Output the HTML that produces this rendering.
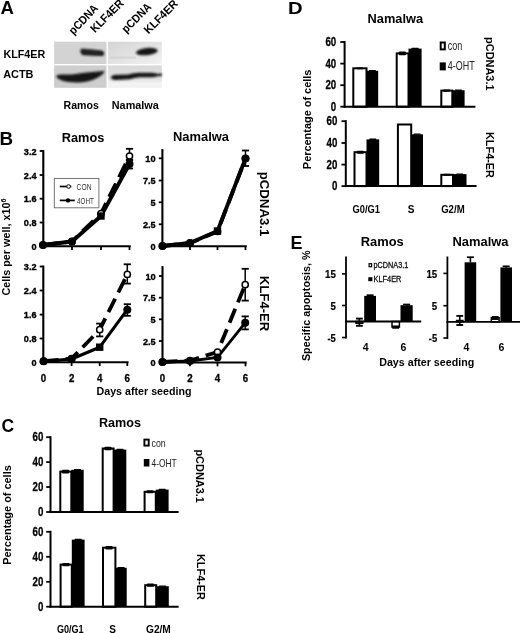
<!DOCTYPE html>
<html lang="en">
<head>
<meta charset="utf-8">
<title>Figure</title>
<style>
html,body{margin:0;padding:0;background:#fff;}
body{width:520px;height:633px;overflow:hidden;}
svg{display:block;will-change:transform;}
svg text{font-family:"Liberation Sans",Arial,Helvetica,sans-serif;}
</style>
</head>
<body>
<svg width="520" height="633" viewBox="0 0 520 633">
<defs>
<filter id="b1" x="-5%" y="-5%" width="110%" height="110%"><feGaussianBlur stdDeviation="0.4"/></filter>
<filter id="b2" x="-10%" y="-10%" width="120%" height="120%"><feGaussianBlur stdDeviation="0.85"/></filter>
<linearGradient id="gTR" x1="0" y1="0" x2="1" y2="1"><stop offset="0" stop-color="#d4d4d4"/><stop offset="0.55" stop-color="#e4e4e4"/><stop offset="1" stop-color="#f2f2f2"/></linearGradient>
<linearGradient id="gBR" x1="0" y1="0" x2="0" y2="1"><stop offset="0" stop-color="#d9d9d9"/><stop offset="0.6" stop-color="#e2e2e2"/><stop offset="0.8" stop-color="#f3f3f3"/><stop offset="1" stop-color="#f1f1f1"/></linearGradient>
</defs>
<rect x="0" y="0" width="520" height="633" fill="#fff"/>
<text x="0.6" y="13.7" font-size="17.5" text-anchor="start" font-weight="bold" fill="#000" textLength="13.4" lengthAdjust="spacingAndGlyphs" >A</text>
<text x="-0.4" y="144.8" font-size="17.7" text-anchor="start" font-weight="bold" fill="#000" textLength="13.6" lengthAdjust="spacingAndGlyphs" >B</text>
<text x="1.6" y="431.6" font-size="17.5" text-anchor="start" font-weight="bold" fill="#000" >C</text>
<text x="287.9" y="13.9" font-size="17.3" text-anchor="start" font-weight="bold" fill="#000" textLength="14.6" lengthAdjust="spacingAndGlyphs" >D</text>
<text x="290.4" y="249.1" font-size="18" text-anchor="start" font-weight="bold" fill="#000" >E</text>
<text x="73.5" y="35.2" font-size="11.5" text-anchor="start" font-weight="bold" fill="#000" textLength="36.5" lengthAdjust="spacingAndGlyphs" transform="rotate(-46 73.5 35.2)" >pCDNA</text>
<text x="95" y="33.3" font-size="11.5" text-anchor="start" font-weight="bold" fill="#000" textLength="41.5" lengthAdjust="spacingAndGlyphs" transform="rotate(-45 95 33.3)" >KLF4ER</text>
<text x="126.3" y="33.5" font-size="11.5" text-anchor="start" font-weight="bold" fill="#000" textLength="36.5" lengthAdjust="spacingAndGlyphs" transform="rotate(-45 126.3 33.5)" >pCDNA</text>
<text x="148.6" y="34.5" font-size="11.5" text-anchor="start" font-weight="bold" fill="#000" textLength="42.5" lengthAdjust="spacingAndGlyphs" transform="rotate(-45 148.6 34.5)" >KLF4ER</text>
<text x="3.5" y="57.5" font-size="11" text-anchor="start" font-weight="bold" fill="#000" textLength="41.7" lengthAdjust="spacingAndGlyphs" >KLF4ER</text>
<text x="3.2" y="78.3" font-size="11" text-anchor="start" font-weight="bold" fill="#000" textLength="30.3" lengthAdjust="spacingAndGlyphs" >ACTB</text>
<text x="63.6" y="108.6" font-size="11" text-anchor="start" font-weight="bold" fill="#000" textLength="35.3" lengthAdjust="spacingAndGlyphs" >Ramos</text>
<text x="111.8" y="108.6" font-size="11" text-anchor="start" font-weight="bold" fill="#000" textLength="47" lengthAdjust="spacingAndGlyphs" >Namalwa</text>
<g filter="url(#b1)">
<rect x="54.1" y="41.7" width="52.4" height="22.3" fill="#d3d3d3"/>
<rect x="108" y="41.7" width="53.8" height="22.3" fill="url(#gTR)"/>
<rect x="54.1" y="65.4" width="52.4" height="22.4" fill="#cecece"/>
<rect x="108" y="65.4" width="53.8" height="22.4" fill="url(#gBR)"/>
<rect x="110" y="56.6" width="26" height="2.2" fill="#c6c6c6" opacity="0.45"/>
</g>
<g filter="url(#b2)" fill="#161616">
<path d="M80.4 50 Q80.6 48.4 84 48.8 L100 50.2 Q104.2 50.8 104.2 53.2 Q104.2 56.4 100 56 L84 55.3 Q80 55 80.4 50Z"/>
<path d="M83 51.6 L101 53" stroke="#4a4a4a" stroke-width="0.7" fill="none"/>
<ellipse cx="146.8" cy="51.6" rx="11" ry="3.6" transform="rotate(-6 146.8 51.6)"/>
<path d="M56.3 77 Q56.5 74.3 62 74.6 L72 74.4 Q82 72.6 92 71.9 L104.6 71 Q104 74 98 77.5 Q88 82.9 76 82.5 Q60 82 56.3 77Z"/>
<path d="M111 77.5 Q111.5 75 116 74.8 L128 74.5 Q133 73 138 72.8 L152 72.8 Q156 73 158 74 L161.8 73.3 L161.8 76.2 L158 76 Q155 77.3 150 77.2 L140 77.3 Q134 78 130 79.3 L116 79.9 Q111 80 111 77.5Z"/>
</g>
<text x="83" y="141.6" font-size="13.5" text-anchor="middle" font-weight="bold" fill="#000" textLength="42.6" lengthAdjust="spacingAndGlyphs" >Ramos</text>
<text x="201" y="140.7" font-size="13.5" text-anchor="middle" font-weight="bold" fill="#000" textLength="56" lengthAdjust="spacingAndGlyphs" >Namalwa</text>
<text x="9.8" y="247" font-size="11" text-anchor="middle" font-weight="bold" fill="#000" textLength="97" lengthAdjust="spacingAndGlyphs" transform="rotate(-90 9.8 247)" >Cells per well, x10<tspan font-size="7.5" dy="-3.5">6</tspan></text>
<text x="260" y="204" font-size="13" text-anchor="middle" font-weight="bold" fill="#000" textLength="64.5" lengthAdjust="spacingAndGlyphs" transform="rotate(90 260 204)" >pCDNA3.1</text>
<text x="260" y="303.6" font-size="13" text-anchor="middle" font-weight="bold" fill="#000" textLength="55.5" lengthAdjust="spacingAndGlyphs" transform="rotate(90 260 303.6)" >KLF4-ER</text>
<text x="144" y="394.5" font-size="11" text-anchor="middle" font-weight="bold" fill="#000" textLength="95" lengthAdjust="spacingAndGlyphs" >Days after seeding</text>
<line x1="43.3" y1="150.1" x2="43.3" y2="247.3" stroke="#000" stroke-width="2.1" />
<line x1="42.3" y1="246.3" x2="130.7" y2="246.3" stroke="#000" stroke-width="2.1" />
<line x1="39.699999999999996" y1="151" x2="43.3" y2="151" stroke="#000" stroke-width="1.8" />
<text x="36.5" y="154.5" font-size="9.8" text-anchor="end" font-weight="bold" fill="#000" textLength="12.7" lengthAdjust="spacingAndGlyphs" stroke="#000" stroke-width="0.35">3.2</text>
<line x1="39.699999999999996" y1="175" x2="43.3" y2="175" stroke="#000" stroke-width="1.8" />
<text x="36.5" y="178.5" font-size="9.8" text-anchor="end" font-weight="bold" fill="#000" textLength="12.7" lengthAdjust="spacingAndGlyphs" stroke="#000" stroke-width="0.35">2.4</text>
<line x1="39.699999999999996" y1="198.7" x2="43.3" y2="198.7" stroke="#000" stroke-width="1.8" />
<text x="36.5" y="202.2" font-size="9.8" text-anchor="end" font-weight="bold" fill="#000" textLength="12.7" lengthAdjust="spacingAndGlyphs" stroke="#000" stroke-width="0.35">1.6</text>
<line x1="39.699999999999996" y1="222.5" x2="43.3" y2="222.5" stroke="#000" stroke-width="1.8" />
<text x="36.5" y="226.0" font-size="9.8" text-anchor="end" font-weight="bold" fill="#000" textLength="12.7" lengthAdjust="spacingAndGlyphs" stroke="#000" stroke-width="0.35">0.8</text>
<line x1="39.699999999999996" y1="246.3" x2="43.3" y2="246.3" stroke="#000" stroke-width="1.8" />
<text x="36.5" y="249.8" font-size="9.8" text-anchor="end" font-weight="bold" fill="#000" textLength="5.1" lengthAdjust="spacingAndGlyphs" stroke="#000" stroke-width="0.35">0</text>
<line x1="72" y1="246.3" x2="72" y2="250.10000000000002" stroke="#000" stroke-width="1.8" />
<line x1="101" y1="246.3" x2="101" y2="250.10000000000002" stroke="#000" stroke-width="1.8" />
<line x1="129.5" y1="246.3" x2="129.5" y2="250.10000000000002" stroke="#000" stroke-width="1.8" />
<polyline points="43,245 72,241.5 101,213.5 129.5,156" fill="none" stroke="#000" stroke-width="3.8" stroke-linejoin="round" stroke-dasharray="15 7"/>
<polyline points="43,245 72,241.5 101,216 129.5,164" fill="none" stroke="#000" stroke-width="3.8" stroke-linejoin="round" />
<line x1="129.5" y1="148.8" x2="129.5" y2="160" stroke="#000" stroke-width="1.5" />
<line x1="125.9" y1="148.8" x2="133.1" y2="148.8" stroke="#000" stroke-width="1.8" />
<line x1="125.9" y1="160" x2="133.1" y2="160" stroke="#000" stroke-width="1.8" />
<circle cx="43" cy="245" r="3.1" fill="#fff" stroke="#000" stroke-width="1.5"/>
<circle cx="72" cy="241.5" r="3.1" fill="#fff" stroke="#000" stroke-width="1.5"/>
<circle cx="101" cy="213.5" r="3.1" fill="#fff" stroke="#000" stroke-width="1.5"/>
<circle cx="129.5" cy="156" r="3.1" fill="#fff" stroke="#000" stroke-width="1.5"/>
<line x1="129.5" y1="160" x2="129.5" y2="168.5" stroke="#000" stroke-width="1.5" />
<line x1="125.9" y1="160" x2="133.1" y2="160" stroke="#000" stroke-width="1.8" />
<line x1="125.9" y1="168.5" x2="133.1" y2="168.5" stroke="#000" stroke-width="1.8" />
<circle cx="43" cy="245" r="4" fill="#000"/>
<circle cx="72" cy="241.5" r="4" fill="#000"/>
<rect x="97.3" y="212.3" width="7.4" height="7.4" fill="#000"/>
<circle cx="129.5" cy="164" r="4" fill="#000"/>
<rect x="54.3" y="178.4" width="44.6" height="29.4" fill="#fff" stroke="#666" stroke-width="0.9"/>
<line x1="59.8" y1="186.5" x2="71.3" y2="186.5" stroke="#000" stroke-width="1.7"/>
<circle cx="68.6" cy="186.5" r="1.8" fill="#fff" stroke="#000" stroke-width="1"/>
<line x1="59.8" y1="200.4" x2="74.8" y2="200.4" stroke="#000" stroke-width="1.7"/>
<circle cx="68" cy="200.4" r="2.2" fill="#000"/>
<text x="76.6" y="189.6" font-size="8.8" text-anchor="start" font-weight="normal" fill="#333" textLength="15" lengthAdjust="spacingAndGlyphs" >CON</text>
<text x="77" y="203.9" font-size="8.8" text-anchor="start" font-weight="normal" fill="#333" textLength="16.8" lengthAdjust="spacingAndGlyphs" >4OHT</text>
<line x1="162.4" y1="149.1" x2="162.4" y2="247.3" stroke="#000" stroke-width="2.1" />
<line x1="161.4" y1="246.3" x2="246.7" y2="246.3" stroke="#000" stroke-width="2.1" />
<line x1="158.8" y1="158.3" x2="162.4" y2="158.3" stroke="#000" stroke-width="1.8" />
<text x="155.6" y="161.8" font-size="9.8" text-anchor="end" font-weight="bold" fill="#000" textLength="10.3" lengthAdjust="spacingAndGlyphs" stroke="#000" stroke-width="0.35">10</text>
<line x1="158.8" y1="180.5" x2="162.4" y2="180.5" stroke="#000" stroke-width="1.8" />
<text x="155.6" y="184.0" font-size="9.8" text-anchor="end" font-weight="bold" fill="#000" textLength="12.7" lengthAdjust="spacingAndGlyphs" stroke="#000" stroke-width="0.35">7.5</text>
<line x1="158.8" y1="202.3" x2="162.4" y2="202.3" stroke="#000" stroke-width="1.8" />
<text x="155.6" y="205.8" font-size="9.8" text-anchor="end" font-weight="bold" fill="#000" textLength="5.1" lengthAdjust="spacingAndGlyphs" stroke="#000" stroke-width="0.35">5</text>
<line x1="158.8" y1="224.3" x2="162.4" y2="224.3" stroke="#000" stroke-width="1.8" />
<text x="155.6" y="227.8" font-size="9.8" text-anchor="end" font-weight="bold" fill="#000" textLength="12.7" lengthAdjust="spacingAndGlyphs" stroke="#000" stroke-width="0.35">2.5</text>
<line x1="158.8" y1="246.3" x2="162.4" y2="246.3" stroke="#000" stroke-width="1.8" />
<text x="155.6" y="249.8" font-size="9.8" text-anchor="end" font-weight="bold" fill="#000" textLength="5.1" lengthAdjust="spacingAndGlyphs" stroke="#000" stroke-width="0.35">0</text>
<line x1="190" y1="246.3" x2="190" y2="250.10000000000002" stroke="#000" stroke-width="1.8" />
<line x1="217.5" y1="246.3" x2="217.5" y2="250.10000000000002" stroke="#000" stroke-width="1.8" />
<line x1="245.5" y1="246.3" x2="245.5" y2="250.10000000000002" stroke="#000" stroke-width="1.8" />
<polyline points="162.5,246 190,243 217.5,231.5 245.5,158.5" fill="none" stroke="#000" stroke-width="3.8" stroke-linejoin="round" stroke-dasharray="15 7"/>
<polyline points="162.5,246 190,243 217.5,231 245.5,158.5" fill="none" stroke="#000" stroke-width="3.8" stroke-linejoin="round" />
<circle cx="162.5" cy="246" r="3.1" fill="#fff" stroke="#000" stroke-width="1.5"/>
<circle cx="190" cy="243" r="3.1" fill="#fff" stroke="#000" stroke-width="1.5"/>
<circle cx="217.5" cy="231.5" r="3.1" fill="#fff" stroke="#000" stroke-width="1.5"/>
<circle cx="245.5" cy="158.5" r="3.1" fill="#fff" stroke="#000" stroke-width="1.5"/>
<line x1="245.5" y1="150.5" x2="245.5" y2="166" stroke="#000" stroke-width="1.5" />
<line x1="241.9" y1="150.5" x2="249.1" y2="150.5" stroke="#000" stroke-width="1.8" />
<line x1="241.9" y1="166" x2="249.1" y2="166" stroke="#000" stroke-width="1.8" />
<circle cx="162.5" cy="246" r="4" fill="#000"/>
<circle cx="190" cy="243" r="4" fill="#000"/>
<rect x="213.8" y="227.3" width="7.4" height="7.4" fill="#000"/>
<circle cx="245.5" cy="158.5" r="4" fill="#000"/>
<line x1="43.3" y1="265.6" x2="43.3" y2="363.2" stroke="#000" stroke-width="2.1" />
<line x1="42.3" y1="362.2" x2="128.5" y2="362.2" stroke="#000" stroke-width="2.1" />
<line x1="39.699999999999996" y1="266.5" x2="43.3" y2="266.5" stroke="#000" stroke-width="1.8" />
<text x="36.5" y="270.0" font-size="9.8" text-anchor="end" font-weight="bold" fill="#000" textLength="12.7" lengthAdjust="spacingAndGlyphs" stroke="#000" stroke-width="0.35">3.2</text>
<line x1="39.699999999999996" y1="290.5" x2="43.3" y2="290.5" stroke="#000" stroke-width="1.8" />
<text x="36.5" y="294.0" font-size="9.8" text-anchor="end" font-weight="bold" fill="#000" textLength="12.7" lengthAdjust="spacingAndGlyphs" stroke="#000" stroke-width="0.35">2.4</text>
<line x1="39.699999999999996" y1="314.6" x2="43.3" y2="314.6" stroke="#000" stroke-width="1.8" />
<text x="36.5" y="318.1" font-size="9.8" text-anchor="end" font-weight="bold" fill="#000" textLength="12.7" lengthAdjust="spacingAndGlyphs" stroke="#000" stroke-width="0.35">1.6</text>
<line x1="39.699999999999996" y1="338.5" x2="43.3" y2="338.5" stroke="#000" stroke-width="1.8" />
<text x="36.5" y="342.0" font-size="9.8" text-anchor="end" font-weight="bold" fill="#000" textLength="12.7" lengthAdjust="spacingAndGlyphs" stroke="#000" stroke-width="0.35">0.8</text>
<line x1="39.699999999999996" y1="362.2" x2="43.3" y2="362.2" stroke="#000" stroke-width="1.8" />
<text x="36.5" y="365.7" font-size="9.8" text-anchor="end" font-weight="bold" fill="#000" textLength="5.1" lengthAdjust="spacingAndGlyphs" stroke="#000" stroke-width="0.35">0</text>
<line x1="71.6" y1="362.2" x2="71.6" y2="366.0" stroke="#000" stroke-width="1.8" />
<line x1="99.7" y1="362.2" x2="99.7" y2="366.0" stroke="#000" stroke-width="1.8" />
<line x1="127.3" y1="362.2" x2="127.3" y2="366.0" stroke="#000" stroke-width="1.8" />
<text x="43.4" y="381.8" font-size="10.5" text-anchor="middle" font-weight="bold" fill="#000" textLength="5.4" lengthAdjust="spacingAndGlyphs" stroke="#000" stroke-width="0.3">0</text>
<text x="71.6" y="381.8" font-size="10.5" text-anchor="middle" font-weight="bold" fill="#000" textLength="5.4" lengthAdjust="spacingAndGlyphs" stroke="#000" stroke-width="0.3">2</text>
<text x="99.7" y="381.8" font-size="10.5" text-anchor="middle" font-weight="bold" fill="#000" textLength="5.4" lengthAdjust="spacingAndGlyphs" stroke="#000" stroke-width="0.3">4</text>
<text x="127.3" y="381.8" font-size="10.5" text-anchor="middle" font-weight="bold" fill="#000" textLength="5.4" lengthAdjust="spacingAndGlyphs" stroke="#000" stroke-width="0.3">6</text>
<polyline points="43.6,361.2 71.6,358.6 99.7,329.7 127.3,274.4" fill="none" stroke="#000" stroke-width="3.8" stroke-linejoin="round" stroke-dasharray="15 7"/>
<polyline points="43.6,361.2 71.6,359 99.7,347.2 127.3,309.7" fill="none" stroke="#000" stroke-width="3.1" stroke-linejoin="round" />
<line x1="99.7" y1="323.6" x2="99.7" y2="336.4" stroke="#000" stroke-width="1.5" />
<line x1="96.10000000000001" y1="323.6" x2="103.3" y2="323.6" stroke="#000" stroke-width="1.8" />
<line x1="96.10000000000001" y1="336.4" x2="103.3" y2="336.4" stroke="#000" stroke-width="1.8" />
<line x1="127.3" y1="264.3" x2="127.3" y2="283.6" stroke="#000" stroke-width="1.5" />
<line x1="123.7" y1="264.3" x2="130.9" y2="264.3" stroke="#000" stroke-width="1.8" />
<line x1="123.7" y1="283.6" x2="130.9" y2="283.6" stroke="#000" stroke-width="1.8" />
<circle cx="43.6" cy="361.2" r="3.1" fill="#fff" stroke="#000" stroke-width="1.5"/>
<circle cx="71.6" cy="358.6" r="3.1" fill="#fff" stroke="#000" stroke-width="1.5"/>
<circle cx="99.7" cy="329.7" r="3.1" fill="#fff" stroke="#000" stroke-width="1.5"/>
<circle cx="127.3" cy="274.4" r="3.1" fill="#fff" stroke="#000" stroke-width="1.5"/>
<line x1="127.3" y1="304.2" x2="127.3" y2="315.8" stroke="#000" stroke-width="1.5" />
<line x1="123.7" y1="304.2" x2="130.9" y2="304.2" stroke="#000" stroke-width="1.8" />
<line x1="123.7" y1="315.8" x2="130.9" y2="315.8" stroke="#000" stroke-width="1.8" />
<circle cx="43.6" cy="361.2" r="4" fill="#000"/>
<circle cx="71.6" cy="359" r="4" fill="#000"/>
<rect x="96.0" y="343.5" width="7.4" height="7.4" fill="#000"/>
<circle cx="127.3" cy="309.7" r="4" fill="#000"/>
<line x1="162.5" y1="266.1" x2="162.5" y2="363.5" stroke="#000" stroke-width="2.1" />
<line x1="161.5" y1="362.5" x2="246.7" y2="362.5" stroke="#000" stroke-width="2.1" />
<line x1="158.9" y1="276" x2="162.5" y2="276" stroke="#000" stroke-width="1.8" />
<text x="155.7" y="279.5" font-size="9.8" text-anchor="end" font-weight="bold" fill="#000" textLength="10.3" lengthAdjust="spacingAndGlyphs" stroke="#000" stroke-width="0.35">10</text>
<line x1="158.9" y1="297.7" x2="162.5" y2="297.7" stroke="#000" stroke-width="1.8" />
<text x="155.7" y="301.2" font-size="9.8" text-anchor="end" font-weight="bold" fill="#000" textLength="12.7" lengthAdjust="spacingAndGlyphs" stroke="#000" stroke-width="0.35">7.5</text>
<line x1="158.9" y1="319.3" x2="162.5" y2="319.3" stroke="#000" stroke-width="1.8" />
<text x="155.7" y="322.8" font-size="9.8" text-anchor="end" font-weight="bold" fill="#000" textLength="5.1" lengthAdjust="spacingAndGlyphs" stroke="#000" stroke-width="0.35">5</text>
<line x1="158.9" y1="341" x2="162.5" y2="341" stroke="#000" stroke-width="1.8" />
<text x="155.7" y="344.5" font-size="9.8" text-anchor="end" font-weight="bold" fill="#000" textLength="12.7" lengthAdjust="spacingAndGlyphs" stroke="#000" stroke-width="0.35">2.5</text>
<line x1="158.9" y1="362.5" x2="162.5" y2="362.5" stroke="#000" stroke-width="1.8" />
<text x="155.7" y="366.0" font-size="9.8" text-anchor="end" font-weight="bold" fill="#000" textLength="5.1" lengthAdjust="spacingAndGlyphs" stroke="#000" stroke-width="0.35">0</text>
<line x1="190" y1="362.5" x2="190" y2="366.3" stroke="#000" stroke-width="1.8" />
<line x1="217.5" y1="362.5" x2="217.5" y2="366.3" stroke="#000" stroke-width="1.8" />
<line x1="245.5" y1="362.5" x2="245.5" y2="366.3" stroke="#000" stroke-width="1.8" />
<text x="162.5" y="382.1" font-size="10.5" text-anchor="middle" font-weight="bold" fill="#000" textLength="5.4" lengthAdjust="spacingAndGlyphs" stroke="#000" stroke-width="0.3">0</text>
<text x="190" y="382.1" font-size="10.5" text-anchor="middle" font-weight="bold" fill="#000" textLength="5.4" lengthAdjust="spacingAndGlyphs" stroke="#000" stroke-width="0.3">2</text>
<text x="217.5" y="382.1" font-size="10.5" text-anchor="middle" font-weight="bold" fill="#000" textLength="5.4" lengthAdjust="spacingAndGlyphs" stroke="#000" stroke-width="0.3">4</text>
<text x="245.5" y="382.1" font-size="10.5" text-anchor="middle" font-weight="bold" fill="#000" textLength="5.4" lengthAdjust="spacingAndGlyphs" stroke="#000" stroke-width="0.3">6</text>
<polyline points="162.5,362 190,360.5 217.5,352 245.2,284.7" fill="none" stroke="#000" stroke-width="3.8" stroke-linejoin="round" stroke-dasharray="15 7"/>
<polyline points="162.5,362 190,361 217.5,357.4 245.2,322.8" fill="none" stroke="#000" stroke-width="2.9" stroke-linejoin="round" />
<line x1="245.2" y1="268.8" x2="245.2" y2="300.6" stroke="#000" stroke-width="1.5" />
<line x1="241.6" y1="268.8" x2="248.79999999999998" y2="268.8" stroke="#000" stroke-width="1.8" />
<line x1="241.6" y1="300.6" x2="248.79999999999998" y2="300.6" stroke="#000" stroke-width="1.8" />
<circle cx="162.5" cy="362" r="3.1" fill="#fff" stroke="#000" stroke-width="1.5"/>
<circle cx="190" cy="360.5" r="3.1" fill="#fff" stroke="#000" stroke-width="1.5"/>
<circle cx="217.5" cy="352" r="3.1" fill="#fff" stroke="#000" stroke-width="1.5"/>
<circle cx="245.2" cy="284.7" r="3.1" fill="#fff" stroke="#000" stroke-width="1.5"/>
<line x1="245.2" y1="316.4" x2="245.2" y2="329.4" stroke="#000" stroke-width="1.5" />
<line x1="241.6" y1="316.4" x2="248.79999999999998" y2="316.4" stroke="#000" stroke-width="1.8" />
<line x1="241.6" y1="329.4" x2="248.79999999999998" y2="329.4" stroke="#000" stroke-width="1.8" />
<circle cx="162.5" cy="362" r="4" fill="#000"/>
<circle cx="190" cy="361" r="4" fill="#000"/>
<circle cx="217.5" cy="357.4" r="4" fill="#000"/>
<circle cx="245.2" cy="322.8" r="4" fill="#000"/>
<text x="120" y="427" font-size="12.5" text-anchor="middle" font-weight="bold" fill="#000" textLength="42" lengthAdjust="spacingAndGlyphs" >Ramos</text>
<text x="10.9" y="515" font-size="11" text-anchor="middle" font-weight="bold" fill="#000" textLength="99.5" lengthAdjust="spacingAndGlyphs" transform="rotate(-90 10.9 515)" >Percentage of cells</text>
<text x="196.2" y="476.2" font-size="11" text-anchor="middle" font-weight="bold" fill="#000" textLength="53.5" lengthAdjust="spacingAndGlyphs" transform="rotate(90 196.2 476.2)" >pCDNA3.1</text>
<text x="196.5" y="577" font-size="11" text-anchor="middle" font-weight="bold" fill="#000" textLength="46" lengthAdjust="spacingAndGlyphs" transform="rotate(90 196.5 577)" >KLF4-ER</text>
<rect x="71.3" y="469.8" width="12.4" height="42.2" fill="#000"/>
<rect x="60.3" y="471.6" width="11.0" height="40.4" fill="#fff" stroke="#000" stroke-width="2"/>
<rect x="62.0" y="469.7" width="7.2" height="3.8" rx="1" fill="#000"/>
<rect x="73.9" y="468.9" width="7.2" height="1.4" rx="0.6" fill="#000"/>
<rect x="113.6" y="449.6" width="12.7" height="62.4" fill="#000"/>
<rect x="102.7" y="448.5" width="10.9" height="63.5" fill="#fff" stroke="#000" stroke-width="2"/>
<rect x="104.35" y="446.8" width="7.2" height="3.4" rx="1" fill="#000"/>
<rect x="116.35" y="448.8" width="7.2" height="1.3" rx="0.6" fill="#000"/>
<rect x="155.8" y="489.6" width="12.8" height="22.4" fill="#000"/>
<rect x="144.6" y="491.8" width="11.2" height="20.2" fill="#fff" stroke="#000" stroke-width="2"/>
<rect x="146.4" y="490.3" width="7.2" height="3.0" rx="1" fill="#000"/>
<rect x="158.6" y="488.8" width="7.2" height="1.3" rx="0.6" fill="#000"/>
<line x1="50.5" y1="436.2" x2="50.5" y2="513" stroke="#000" stroke-width="2" />
<line x1="49.5" y1="512" x2="178.6" y2="512" stroke="#000" stroke-width="2" />
<line x1="46.2" y1="437.2" x2="50.5" y2="437.2" stroke="#000" stroke-width="1.8" />
<text x="43.3" y="441.2" font-size="13" text-anchor="end" font-weight="bold" fill="#000" textLength="10.8" lengthAdjust="spacingAndGlyphs" stroke="#000" stroke-width="0.3">60</text>
<line x1="46.2" y1="462.1" x2="50.5" y2="462.1" stroke="#000" stroke-width="1.8" />
<text x="43.3" y="466.1" font-size="13" text-anchor="end" font-weight="bold" fill="#000" textLength="10.8" lengthAdjust="spacingAndGlyphs" stroke="#000" stroke-width="0.3">40</text>
<line x1="46.2" y1="487" x2="50.5" y2="487" stroke="#000" stroke-width="1.8" />
<text x="43.3" y="491.0" font-size="13" text-anchor="end" font-weight="bold" fill="#000" textLength="10.8" lengthAdjust="spacingAndGlyphs" stroke="#000" stroke-width="0.3">20</text>
<line x1="46.2" y1="512" x2="50.5" y2="512" stroke="#000" stroke-width="1.8" />
<text x="43.3" y="516.0" font-size="13" text-anchor="end" font-weight="bold" fill="#000" textLength="5.4" lengthAdjust="spacingAndGlyphs" stroke="#000" stroke-width="0.3">0</text>
<rect x="71.8" y="539.6" width="12.8" height="67.1" fill="#000"/>
<rect x="60.6" y="564.6" width="11.2" height="42.1" fill="#fff" stroke="#000" stroke-width="2"/>
<rect x="62.4" y="562.9" width="7.2" height="3.4" rx="1" fill="#000"/>
<rect x="74.6" y="538.7" width="7.2" height="1.4" rx="0.6" fill="#000"/>
<rect x="115.4" y="567.8" width="11.3" height="38.9" fill="#000"/>
<rect x="103" y="547.7" width="12.4" height="59.0" fill="#fff" stroke="#000" stroke-width="2"/>
<rect x="105.4" y="546.0" width="7.2" height="3.4" rx="1" fill="#000"/>
<rect x="117.45" y="567.0" width="7.2" height="1.3" rx="0.6" fill="#000"/>
<rect x="156.2" y="586.2" width="12.6" height="20.5" fill="#000"/>
<rect x="145.2" y="585.2" width="11.0" height="21.5" fill="#fff" stroke="#000" stroke-width="2"/>
<rect x="146.9" y="583.6" width="7.2" height="3.2" rx="1" fill="#000"/>
<rect x="158.9" y="585.4" width="7.2" height="1.3" rx="0.6" fill="#000"/>
<line x1="50.5" y1="530.8" x2="50.5" y2="607.7" stroke="#000" stroke-width="2" />
<line x1="49.5" y1="606.7" x2="178.6" y2="606.7" stroke="#000" stroke-width="2" />
<line x1="46.2" y1="531.8" x2="50.5" y2="531.8" stroke="#000" stroke-width="1.8" />
<text x="43.3" y="535.8" font-size="13" text-anchor="end" font-weight="bold" fill="#000" textLength="10.8" lengthAdjust="spacingAndGlyphs" stroke="#000" stroke-width="0.3">60</text>
<line x1="46.2" y1="556.8" x2="50.5" y2="556.8" stroke="#000" stroke-width="1.8" />
<text x="43.3" y="560.8" font-size="13" text-anchor="end" font-weight="bold" fill="#000" textLength="10.8" lengthAdjust="spacingAndGlyphs" stroke="#000" stroke-width="0.3">40</text>
<line x1="46.2" y1="581.8" x2="50.5" y2="581.8" stroke="#000" stroke-width="1.8" />
<text x="43.3" y="585.8" font-size="13" text-anchor="end" font-weight="bold" fill="#000" textLength="10.8" lengthAdjust="spacingAndGlyphs" stroke="#000" stroke-width="0.3">20</text>
<line x1="46.2" y1="606.7" x2="50.5" y2="606.7" stroke="#000" stroke-width="1.8" />
<text x="43.3" y="610.7" font-size="13" text-anchor="end" font-weight="bold" fill="#000" textLength="5.4" lengthAdjust="spacingAndGlyphs" stroke="#000" stroke-width="0.3">0</text>
<rect x="144.4" y="439.6" width="4.3" height="6" fill="#fff" stroke="#000" stroke-width="1.9"/>
<rect x="143.8" y="459" width="5.6" height="7.5" fill="#000"/>
<text x="151.5" y="447" font-size="11.5" text-anchor="start" font-weight="normal" fill="#222" textLength="14.2" lengthAdjust="spacingAndGlyphs" >con</text>
<text x="151.5" y="466.8" font-size="11.5" text-anchor="start" font-weight="normal" fill="#222" textLength="25.2" lengthAdjust="spacingAndGlyphs" >4-OHT</text>
<text x="70.3" y="632.7" font-size="10" text-anchor="middle" font-weight="bold" fill="#000" textLength="26.8" lengthAdjust="spacingAndGlyphs" >G0/G1</text>
<text x="112.7" y="632.7" font-size="10" text-anchor="middle" font-weight="bold" fill="#000" >S</text>
<text x="158.4" y="632.7" font-size="10" text-anchor="middle" font-weight="bold" fill="#000" textLength="24.8" lengthAdjust="spacingAndGlyphs" >G2/M</text>
<text x="395.3" y="22.7" font-size="12.5" text-anchor="middle" font-weight="bold" fill="#000" textLength="55.5" lengthAdjust="spacingAndGlyphs" >Namalwa</text>
<text x="311.5" y="119.4" font-size="11" text-anchor="middle" font-weight="bold" fill="#000" textLength="99.5" lengthAdjust="spacingAndGlyphs" transform="rotate(-90 311.5 119.4)" >Percentage of cells</text>
<text x="486" y="63.8" font-size="11" text-anchor="middle" font-weight="bold" fill="#000" textLength="53.5" lengthAdjust="spacingAndGlyphs" transform="rotate(90 486 63.8)" >pCDNA3.1</text>
<text x="486" y="155" font-size="11" text-anchor="middle" font-weight="bold" fill="#000" textLength="46" lengthAdjust="spacingAndGlyphs" transform="rotate(90 486 155)" >KLF4-ER</text>
<rect x="366.5" y="70.8" width="11.7" height="35.9" fill="#000"/>
<rect x="353.3" y="68.3" width="13.2" height="38.4" fill="#fff" stroke="#000" stroke-width="2"/>
<rect x="356.1" y="67.4" width="7.2" height="1.8" rx="1" fill="#000"/>
<rect x="368.75" y="69.9" width="7.2" height="1.4" rx="0.6" fill="#000"/>
<rect x="408.5" y="48.6" width="13.1" height="58.1" fill="#000"/>
<rect x="396.7" y="53.4" width="11.8" height="53.3" fill="#fff" stroke="#000" stroke-width="2"/>
<rect x="398.8" y="51.5" width="7.2" height="3.8" rx="1" fill="#000"/>
<rect x="411.45" y="47.8" width="7.2" height="1.3" rx="0.6" fill="#000"/>
<rect x="452.3" y="90.2" width="12.3" height="16.5" fill="#000"/>
<rect x="441.3" y="90.6" width="11.0" height="16.1" fill="#fff" stroke="#000" stroke-width="2"/>
<rect x="443.0" y="89.4" width="7.2" height="2.4" rx="1" fill="#000"/>
<rect x="454.85" y="89.5" width="7.2" height="1.2" rx="0.6" fill="#000"/>
<line x1="344.6" y1="41" x2="344.6" y2="107.7" stroke="#000" stroke-width="2" />
<line x1="343.6" y1="106.7" x2="475.4" y2="106.7" stroke="#000" stroke-width="2" />
<line x1="340.3" y1="42" x2="344.6" y2="42" stroke="#000" stroke-width="1.8" />
<text x="336.2" y="46.0" font-size="13" text-anchor="end" font-weight="bold" fill="#000" textLength="10.8" lengthAdjust="spacingAndGlyphs" stroke="#000" stroke-width="0.3">60</text>
<line x1="340.3" y1="63.6" x2="344.6" y2="63.6" stroke="#000" stroke-width="1.8" />
<text x="336.2" y="67.6" font-size="13" text-anchor="end" font-weight="bold" fill="#000" textLength="10.8" lengthAdjust="spacingAndGlyphs" stroke="#000" stroke-width="0.3">40</text>
<line x1="340.3" y1="85.2" x2="344.6" y2="85.2" stroke="#000" stroke-width="1.8" />
<text x="336.2" y="89.2" font-size="13" text-anchor="end" font-weight="bold" fill="#000" textLength="10.8" lengthAdjust="spacingAndGlyphs" stroke="#000" stroke-width="0.3">20</text>
<line x1="340.3" y1="106.7" x2="344.6" y2="106.7" stroke="#000" stroke-width="1.8" />
<text x="336.2" y="110.7" font-size="13" text-anchor="end" font-weight="bold" fill="#000" textLength="5.4" lengthAdjust="spacingAndGlyphs" stroke="#000" stroke-width="0.3">0</text>
<rect x="366.5" y="139.4" width="12.7" height="46.7" fill="#000"/>
<rect x="354.5" y="152.2" width="12.0" height="33.9" fill="#fff" stroke="#000" stroke-width="2"/>
<rect x="356.7" y="150.7" width="7.2" height="3.0" rx="1" fill="#000"/>
<rect x="369.25" y="138.5" width="7.2" height="1.4" rx="0.6" fill="#000"/>
<rect x="411.2" y="134.3" width="11.8" height="51.8" fill="#000"/>
<rect x="397.9" y="124.5" width="13.3" height="61.6" fill="#fff" stroke="#000" stroke-width="2"/>
<rect x="413.5" y="133.6" width="7.2" height="1.2" rx="0.6" fill="#000"/>
<rect x="453" y="174.1" width="13.5" height="12.0" fill="#000"/>
<rect x="441.3" y="174.8" width="11.7" height="11.3" fill="#fff" stroke="#000" stroke-width="2"/>
<rect x="443.35" y="173.8" width="7.2" height="2" rx="1" fill="#000"/>
<rect x="456.15" y="173.4" width="7.2" height="1.2" rx="0.6" fill="#000"/>
<line x1="345.8" y1="120.2" x2="345.8" y2="187.1" stroke="#000" stroke-width="2" />
<line x1="344.8" y1="186.1" x2="476.6" y2="186.1" stroke="#000" stroke-width="2" />
<line x1="341.5" y1="121.2" x2="345.8" y2="121.2" stroke="#000" stroke-width="1.8" />
<text x="337.4" y="125.2" font-size="13" text-anchor="end" font-weight="bold" fill="#000" textLength="10.8" lengthAdjust="spacingAndGlyphs" stroke="#000" stroke-width="0.3">60</text>
<line x1="341.5" y1="143" x2="345.8" y2="143" stroke="#000" stroke-width="1.8" />
<text x="337.4" y="147.0" font-size="13" text-anchor="end" font-weight="bold" fill="#000" textLength="10.8" lengthAdjust="spacingAndGlyphs" stroke="#000" stroke-width="0.3">40</text>
<line x1="341.5" y1="164.6" x2="345.8" y2="164.6" stroke="#000" stroke-width="1.8" />
<text x="337.4" y="168.6" font-size="13" text-anchor="end" font-weight="bold" fill="#000" textLength="10.8" lengthAdjust="spacingAndGlyphs" stroke="#000" stroke-width="0.3">20</text>
<line x1="341.5" y1="186.1" x2="345.8" y2="186.1" stroke="#000" stroke-width="1.8" />
<text x="337.4" y="190.1" font-size="13" text-anchor="end" font-weight="bold" fill="#000" textLength="5.4" lengthAdjust="spacingAndGlyphs" stroke="#000" stroke-width="0.3">0</text>
<rect x="440.7" y="42.5" width="4.1" height="6.9" fill="#fff" stroke="#000" stroke-width="2"/>
<rect x="439.7" y="62.4" width="6.1" height="8" fill="#000"/>
<text x="447.8" y="50.2" font-size="12" text-anchor="start" font-weight="normal" fill="#222" textLength="14.5" lengthAdjust="spacingAndGlyphs" >con</text>
<text x="447.8" y="70.4" font-size="12" text-anchor="start" font-weight="normal" fill="#222" textLength="26.8" lengthAdjust="spacingAndGlyphs" >4-OHT</text>
<text x="366.3" y="213" font-size="10" text-anchor="middle" font-weight="bold" fill="#000" textLength="27.5" lengthAdjust="spacingAndGlyphs" >G0/G1</text>
<text x="411.2" y="213" font-size="10" text-anchor="middle" font-weight="bold" fill="#000" >S</text>
<text x="452.9" y="213" font-size="10" text-anchor="middle" font-weight="bold" fill="#000" textLength="23.5" lengthAdjust="spacingAndGlyphs" >G2/M</text>
<text x="382.3" y="245.6" font-size="13.5" text-anchor="middle" font-weight="bold" fill="#000" textLength="43" lengthAdjust="spacingAndGlyphs" >Ramos</text>
<text x="480.5" y="245.7" font-size="13.5" text-anchor="middle" font-weight="bold" fill="#000" textLength="56" lengthAdjust="spacingAndGlyphs" >Namalwa</text>
<text x="310.3" y="305.8" font-size="11.3" text-anchor="middle" font-weight="bold" fill="#000" textLength="110.5" lengthAdjust="spacingAndGlyphs" transform="rotate(-90 310.3 305.8)" >Specific apoptosis, %</text>
<text x="426.7" y="366" font-size="11" text-anchor="middle" font-weight="bold" fill="#000" textLength="95" lengthAdjust="spacingAndGlyphs" >Days after seeding</text>
<rect x="356.0" y="321.5" width="6.8" height="1.6999999999999886" fill="#fff" stroke="#000" stroke-width="1.5"/>
<rect x="364.2" y="295.9" width="11.800000000000011" height="25.600000000000023" fill="#000"/>
<line x1="359.4" y1="318.6" x2="359.4" y2="325.8" stroke="#000" stroke-width="1.6" />
<line x1="356.0" y1="318.6" x2="362.79999999999995" y2="318.6" stroke="#000" stroke-width="1.9" />
<line x1="356.0" y1="325.8" x2="362.79999999999995" y2="325.8" stroke="#000" stroke-width="1.9" />
<line x1="370.1" y1="295.2" x2="370.1" y2="296" stroke="#000" stroke-width="1.6" />
<line x1="366.6" y1="295.2" x2="373.6" y2="295.2" stroke="#000" stroke-width="1.7" />
<rect x="392.0" y="321.5" width="7.400000000000023" height="5.5" fill="#fff" stroke="#000" stroke-width="1.5"/>
<rect x="400.5" y="305.2" width="12.199999999999989" height="16.30000000000001" fill="#000"/>
<line x1="395.7" y1="326.4" x2="395.7" y2="327.8" stroke="#000" stroke-width="1.6" />
<line x1="392.3" y1="326.4" x2="399.09999999999997" y2="326.4" stroke="#000" stroke-width="1.9" />
<line x1="392.3" y1="327.8" x2="399.09999999999997" y2="327.8" stroke="#000" stroke-width="1.9" />
<line x1="406.6" y1="304.5" x2="406.6" y2="305.2" stroke="#000" stroke-width="1.6" />
<line x1="403.1" y1="304.5" x2="410.1" y2="304.5" stroke="#000" stroke-width="1.7" />
<line x1="346" y1="256.4" x2="346" y2="338.4" stroke="#000" stroke-width="1.8" />
<line x1="345.1" y1="321.5" x2="421.2" y2="321.5" stroke="#000" stroke-width="1.8" />
<line x1="342" y1="273.9" x2="346" y2="273.9" stroke="#000" stroke-width="1.6" />
<text x="335.8" y="278.09999999999997" font-size="11.7" text-anchor="end" font-weight="bold" fill="#000" textLength="10.8" lengthAdjust="spacingAndGlyphs" stroke="#000" stroke-width="0.2">15</text>
<line x1="342" y1="305.5" x2="346" y2="305.5" stroke="#000" stroke-width="1.6" />
<text x="335.8" y="309.7" font-size="11.7" text-anchor="end" font-weight="bold" fill="#000" textLength="5.4" lengthAdjust="spacingAndGlyphs" stroke="#000" stroke-width="0.2">5</text>
<line x1="342" y1="337.5" x2="346" y2="337.5" stroke="#000" stroke-width="1.6" />
<text x="335.8" y="341.7" font-size="11.7" text-anchor="end" font-weight="bold" fill="#000" textLength="8.4" lengthAdjust="spacingAndGlyphs" stroke="#000" stroke-width="0.2">-5</text>
<text x="365.6" y="351" font-size="10.5" text-anchor="middle" font-weight="bold" fill="#000" >4</text>
<text x="403.5" y="351" font-size="10.5" text-anchor="middle" font-weight="bold" fill="#000" >6</text>
<rect x="456.6" y="320.5" width="6.3" height="1.3999999999999773" fill="#fff" stroke="#000" stroke-width="1.5"/>
<rect x="464.6" y="262.3" width="11.599999999999966" height="59.599999999999966" fill="#000"/>
<line x1="459.75" y1="315.9" x2="459.75" y2="325" stroke="#000" stroke-width="1.6" />
<line x1="456.35" y1="315.9" x2="463.15" y2="315.9" stroke="#000" stroke-width="1.9" />
<line x1="456.35" y1="325" x2="463.15" y2="325" stroke="#000" stroke-width="1.9" />
<line x1="470.4" y1="257.2" x2="470.4" y2="262.3" stroke="#000" stroke-width="1.6" />
<line x1="466.9" y1="257.2" x2="473.9" y2="257.2" stroke="#000" stroke-width="1.7" />
<rect x="491.3" y="317.7" width="7.8" height="4.199999999999989" fill="#fff" stroke="#000" stroke-width="1.5"/>
<rect x="500.4" y="267.4" width="11.600000000000023" height="54.5" fill="#000"/>
<line x1="495.2" y1="317" x2="495.2" y2="319" stroke="#000" stroke-width="1.6" />
<line x1="491.8" y1="317" x2="498.59999999999997" y2="317" stroke="#000" stroke-width="1.9" />
<line x1="491.8" y1="319" x2="498.59999999999997" y2="319" stroke="#000" stroke-width="1.9" />
<line x1="506.2" y1="266.3" x2="506.2" y2="267.4" stroke="#000" stroke-width="1.6" />
<line x1="502.7" y1="266.3" x2="509.7" y2="266.3" stroke="#000" stroke-width="1.7" />
<line x1="447.4" y1="256.5" x2="447.4" y2="338.9" stroke="#000" stroke-width="1.8" />
<line x1="446.5" y1="321.9" x2="520" y2="321.9" stroke="#000" stroke-width="1.8" />
<line x1="443.4" y1="273.4" x2="447.4" y2="273.4" stroke="#000" stroke-width="1.6" />
<text x="437.2" y="277.59999999999997" font-size="11.7" text-anchor="end" font-weight="bold" fill="#000" textLength="10.8" lengthAdjust="spacingAndGlyphs" stroke="#000" stroke-width="0.2">15</text>
<line x1="443.4" y1="305.7" x2="447.4" y2="305.7" stroke="#000" stroke-width="1.6" />
<text x="437.2" y="309.9" font-size="11.7" text-anchor="end" font-weight="bold" fill="#000" textLength="5.4" lengthAdjust="spacingAndGlyphs" stroke="#000" stroke-width="0.2">5</text>
<line x1="443.4" y1="338" x2="447.4" y2="338" stroke="#000" stroke-width="1.6" />
<text x="437.2" y="342.2" font-size="11.7" text-anchor="end" font-weight="bold" fill="#000" textLength="8.4" lengthAdjust="spacingAndGlyphs" stroke="#000" stroke-width="0.2">-5</text>
<text x="466.5" y="351" font-size="10.5" text-anchor="middle" font-weight="bold" fill="#000" >4</text>
<text x="501.5" y="351" font-size="10.5" text-anchor="middle" font-weight="bold" fill="#000" >6</text>
<rect x="369.1" y="263.7" width="2.5" height="3" fill="#fff" stroke="#000" stroke-width="1.2"/>
<rect x="368.3" y="277.2" width="4.1" height="4" fill="#000"/>
<text x="373.6" y="268.4" font-size="8.2" text-anchor="start" font-weight="normal" fill="#111" textLength="34.6" lengthAdjust="spacingAndGlyphs" stroke="#111" stroke-width="0.3">pCDNA3.1</text>
<text x="373.6" y="282.2" font-size="8.2" text-anchor="start" font-weight="normal" fill="#111" textLength="27.8" lengthAdjust="spacingAndGlyphs" stroke="#111" stroke-width="0.3">KLF4ER</text>
</svg>
</body>
</html>
